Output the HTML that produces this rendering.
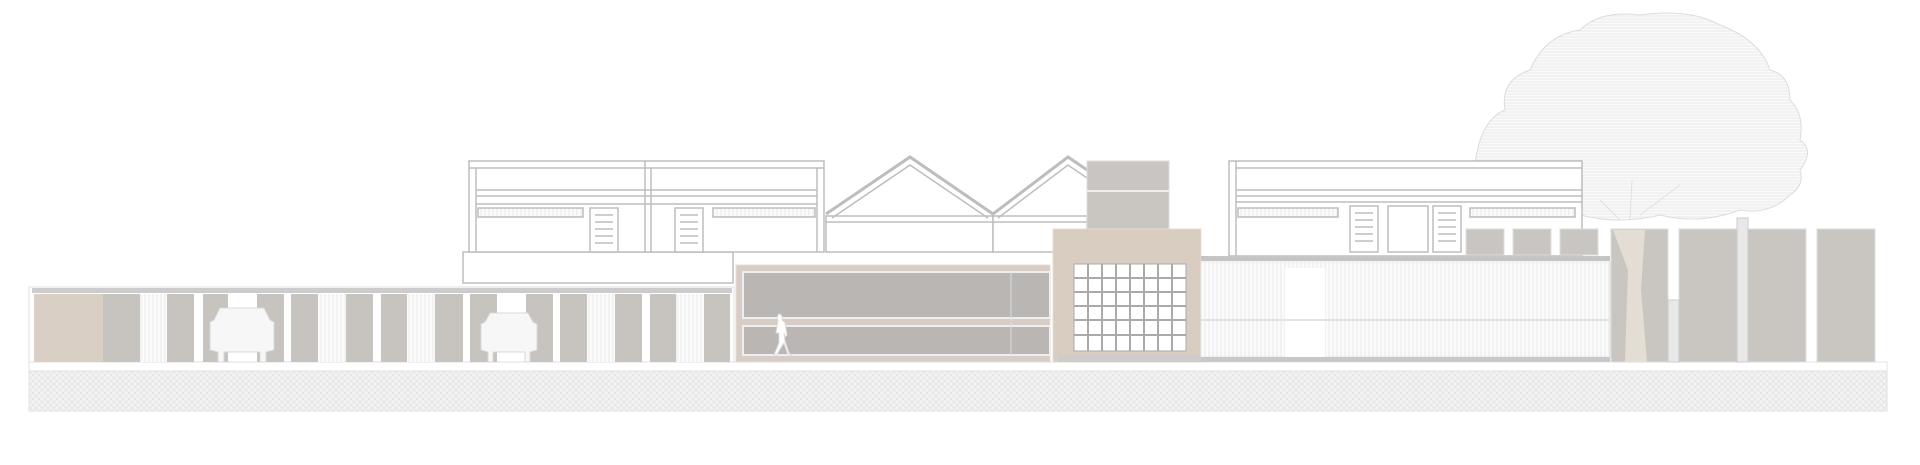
<!DOCTYPE html>
<html><head><meta charset="utf-8"><style>html,body{margin:0;padding:0;background:#fff}svg{display:block}</style></head>
<body>
<svg width="1920" height="465" viewBox="0 0 1920 465" xmlns="http://www.w3.org/2000/svg">
<defs>
<pattern id="hatch" width="6" height="6" patternUnits="userSpaceOnUse">
<rect width="6" height="6" fill="#f3f3f3"/><path d="M0 6L6 0M0 0L6 6" stroke="#dedede" stroke-width="0.6"/></pattern>
<pattern id="hl" width="10" height="3" patternUnits="userSpaceOnUse">
<rect width="10" height="3" fill="#fafafa"/><line x1="0" y1="1" x2="10" y2="1" stroke="#e6e6e6" stroke-width="0.8"/></pattern>
<pattern id="vl" width="4" height="10" patternUnits="userSpaceOnUse">
<rect width="4" height="10" fill="#fbfbfb"/><line x1="1" y1="0" x2="1" y2="10" stroke="#e2e2e2" stroke-width="0.7"/></pattern>
</defs>

<!-- ground -->
<rect x="29" y="362" width="1858" height="9" fill="#fff" stroke="#e6e6e6"/>
<rect x="29" y="371" width="1858" height="40" fill="url(#hatch)" stroke="#e2e2e2"/>

<!-- Tree canopy -->
<g stroke="#dcdcdc" stroke-width="1" fill="url(#hl)">
<path d="M1475 165 Q1480 120 1505 110 Q1500 80 1530 70 Q1545 35 1580 30 Q1600 10 1640 15 Q1690 8 1720 25 Q1760 40 1770 70 Q1790 75 1790 100 Q1805 115 1800 140 Q1815 150 1800 170 Q1805 185 1790 195 Q1770 215 1740 210 Q1700 225 1660 215 Q1620 225 1580 215 Q1540 220 1510 205 Q1470 200 1475 165Z"/>
</g>
<path d="M1620 220 L1600 200 M1640 215 L1680 185 M1630 220 L1632 180" stroke="#e0e0e0" fill="none"/>

<!-- Left upper building -->
<g fill="#fff" stroke="#bdbdbd" stroke-width="1.5">
<rect x="463" y="252" width="270" height="31"/>
<rect x="469" y="161" width="355" height="91"/>
<line x1="469" y1="168" x2="824" y2="168"/>
<line x1="476" y1="168" x2="476" y2="252"/>
<line x1="645" y1="161" x2="645" y2="252"/><line x1="651" y1="168" x2="651" y2="252"/>
<line x1="817" y1="168" x2="817" y2="252"/>
<line x1="476" y1="190" x2="817" y2="190"/><line x1="476" y1="196" x2="817" y2="196"/>
<line x1="476" y1="204" x2="817" y2="204"/>
<rect x="478" y="208" width="105" height="9" fill="url(#vl)"/>
<rect x="713" y="208" width="102" height="9" fill="url(#vl)"/>
<rect x="590" y="208" width="28" height="44"/>
<rect x="675" y="208" width="28" height="44"/>
<path d="M595 215h18M595 222h18M595 229h18M595 236h18M595 243h18M680 215h18M680 222h18M680 229h18M680 236h18M680 243h18"/>
</g>
<!-- gables -->
<g fill="#fff" stroke="#bdbdbd" stroke-width="1.5">
<rect x="826" y="216" width="167" height="36"/>
<rect x="993" y="216" width="94" height="36"/>
<path d="M826 214 L910 157 L993 214 L1068 157 L1090 172" fill="none" stroke-width="3"/>
<path d="M832 218 L910 165 L988 218 M998 218 L1068 165 L1087 178" fill="none"/>
<line x1="826" y1="222" x2="1087" y2="222"/>
</g>
<!-- tower -->
<rect x="1087" y="161" width="82" height="68" fill="#c9c6c2" stroke="#ddd"/>
<line x1="1087" y1="191" x2="1169" y2="191" stroke="#eee" stroke-width="2"/>

<!-- right building -->
<g fill="#fff" stroke="#bdbdbd" stroke-width="1.5">
<rect x="1229" y="161" width="353" height="95"/>
<line x1="1236" y1="161" x2="1236" y2="256"/>
<line x1="1236" y1="168" x2="1582" y2="168"/>
<line x1="1236" y1="190" x2="1582" y2="190"/><line x1="1236" y1="196" x2="1582" y2="196"/>
<line x1="1236" y1="202" x2="1582" y2="202"/>
<rect x="1238" y="208" width="100" height="9" fill="url(#vl)"/>
<rect x="1470" y="208" width="105" height="9" fill="url(#vl)"/>
<rect x="1350" y="206" width="28" height="46"/>
<rect x="1433" y="206" width="28" height="46"/>
<rect x="1388" y="206" width="40" height="46"/>
<path d="M1355 213h18M1355 220h18M1355 227h18M1355 234h18M1355 241h18M1438 213h18M1438 220h18M1438 227h18M1438 234h18M1438 241h18"/>
</g>
<!-- small concrete panels -->
<g fill="#c9c6c2" stroke="#ddd">
<rect x="1466" y="229" width="38" height="26"/><rect x="1513" y="229" width="38" height="26"/><rect x="1560" y="229" width="38" height="26"/>
</g>

<!-- left wall -->
<rect x="29" y="287" width="705" height="75" fill="#fff" stroke="#e0e0e0"/>
<rect x="32" y="288" width="700" height="5" fill="#ccc"/>
<rect x="34" y="294" width="69" height="68" fill="#d9cfc4"/>
<g fill="#c7c3be">
<rect x="103" y="294" width="37" height="68"/><rect x="167" y="294" width="27" height="68"/>
<rect x="203" y="294" width="25" height="68"/><rect x="257" y="294" width="27" height="68"/>
<rect x="291" y="294" width="27" height="68"/><rect x="346" y="294" width="27" height="68"/>
<rect x="381" y="294" width="26" height="68"/><rect x="435" y="294" width="28" height="68"/>
<rect x="470" y="294" width="27" height="68"/><rect x="526" y="294" width="27" height="68"/>
<rect x="560" y="294" width="27" height="68"/><rect x="615" y="294" width="27" height="68"/>
<rect x="650" y="294" width="26" height="68"/><rect x="704" y="294" width="26" height="68"/>
</g>
<g fill="url(#vl)">
<rect x="140" y="294" width="27" height="68"/><rect x="318" y="294" width="28" height="68"/>
<rect x="407" y="294" width="28" height="68"/><rect x="587" y="294" width="28" height="68"/>
<rect x="676" y="294" width="28" height="68"/>
</g>
<!-- cars -->
<g fill="#f7f7f7" stroke="#d8d8d8">
<path d="M214 320 L220 308 H264 L270 320 L274 322 V350 L266 352 V362 H260 V352 H224 V362 H218 V352 L210 350 V322Z"/>
<path d="M485 322 L490 313 H528 L533 322 L537 324 V350 L530 352 V362 H525 V352 H493 V362 H488 V352 L481 350 V324Z"/>
</g>

<!-- brick wall -->
<rect x="736" y="265" width="314" height="97" fill="#d8ccc6" stroke="#e6dcd6"/>
<rect x="743" y="272" width="307" height="46" fill="#b9b6b4" stroke="#eee" stroke-width="2"/>
<rect x="743" y="326" width="307" height="29" fill="#b9b6b4" stroke="#eee" stroke-width="2"/>
<line x1="1011" y1="272" x2="1011" y2="355" stroke="#ddd"/>
<!-- person -->
<path d="M778 314 q5 0 4 6 l3 3 l2 12 l-2 2 l-1 -4 l1 8 l4 12 l3 2 h-4 l-4 -12 l-4 6 l-3 6 h-3 l5 -12 l0 -10 l-3 0 l2 -12 q-2 -6 2 -7z" fill="#fff" stroke="#ddd"/>

<!-- beige block -->
<rect x="1053" y="229" width="148" height="133" fill="#d9cdc1" stroke="#e6dcd2"/>
<rect x="1074" y="264" width="112" height="87" fill="#fff" stroke="#aaa"/>
<g stroke="#aaa" stroke-width="2">
<line x1="1088" y1="264" x2="1088" y2="351"/><line x1="1102" y1="264" x2="1102" y2="351"/><line x1="1116" y1="264" x2="1116" y2="351"/>
<line x1="1130" y1="264" x2="1130" y2="351"/><line x1="1144" y1="264" x2="1144" y2="351"/><line x1="1158" y1="264" x2="1158" y2="351"/><line x1="1172" y1="264" x2="1172" y2="351"/>
<line x1="1074" y1="278" x2="1186" y2="278"/><line x1="1074" y1="292" x2="1186" y2="292"/><line x1="1074" y1="306" x2="1186" y2="306"/>
<line x1="1074" y1="320" x2="1186" y2="320"/><line x1="1074" y1="335" x2="1186" y2="335"/>
</g>
<rect x="1058" y="355" width="143" height="7" fill="#ccc"/>

<!-- right fence -->
<rect x="1201" y="256" width="409" height="5" fill="#c4c4c4"/>
<rect x="1201" y="262" width="409" height="95" fill="url(#vl)" stroke="#e8e8e8"/>
<rect x="1285" y="268" width="40" height="89" fill="#fff"/>
<line x1="1201" y1="320" x2="1610" y2="320" stroke="#e3e3e3" stroke-width="2"/>
<rect x="1201" y="357" width="409" height="5" fill="#c8c8c8"/>

<!-- tall concrete panels -->
<g fill="#c9c6c2" stroke="#ddd">
<rect x="1611" y="229" width="57" height="133"/><rect x="1679" y="229" width="58" height="133"/>
<rect x="1748" y="229" width="58" height="133"/><rect x="1817" y="229" width="58" height="133"/>
</g>
<rect x="1737" y="218" width="11" height="144" fill="#e8e8e8" stroke="#ccc"/>
<rect x="1668" y="300" width="11" height="62" fill="#e8e8e8" stroke="#ccc"/>
<!-- trunk -->
<path d="M1613 230 L1628 270 L1625 362 H1647 L1641 290 L1645 230Z" fill="#e4ddd4"/>
</svg>
</body></html>
